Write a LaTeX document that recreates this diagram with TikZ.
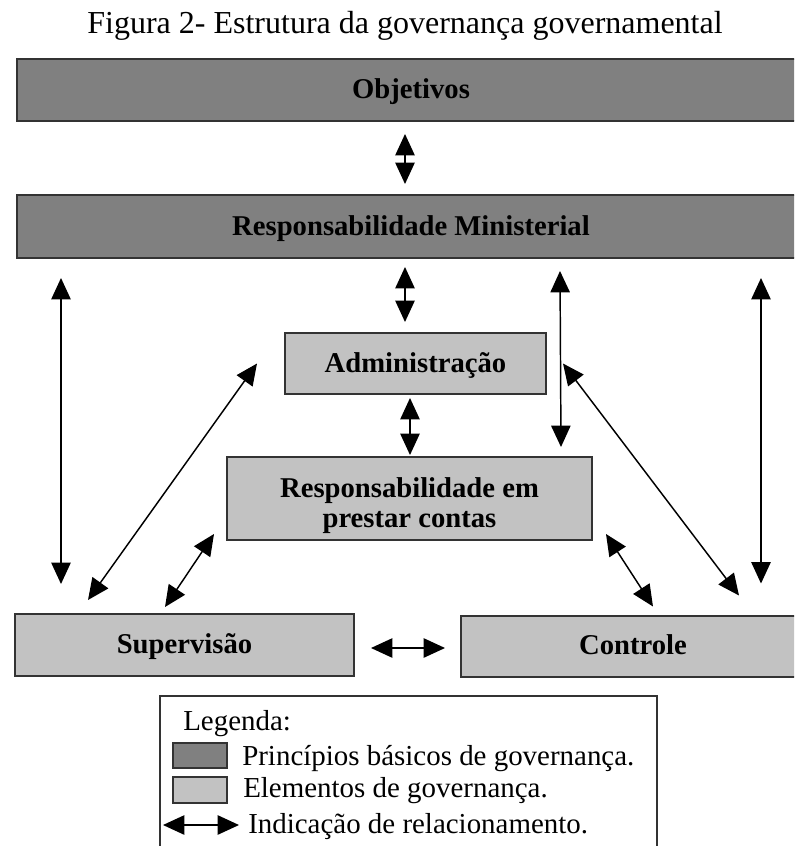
\documentclass[tikz,border=0pt]{standalone}
\usepackage{fontspec}
\setmainfont{Liberation Serif}
\usetikzlibrary{calc, arrows.meta}

\definecolor{basicgray}{gray}{0.5}
\definecolor{elemgray}{gray}{0.76}

\begin{document}
\begin{tikzpicture}[x=0.75pt, y=-0.75pt,
    basic/.style={draw=black!80, line width=1.5pt, fill=basicgray, inner sep=0pt},
    elem/.style={draw=black!80, line width=1.5pt, fill=elemgray, inner sep=0pt},
    boxfont/.style={font=\bfseries\fontsize{21.5}{22.5}\selectfont, inner sep=0pt},
    boxtext/.style={boxfont, text height=14pt, text depth=1.25pt},
    legtext/.style={font=\fontsize{21.7}{24}\selectfont, inner sep=0pt, anchor=base west},
    rel/.style={{Triangle[length=16pt, width=14.5pt]}-{Triangle[length=16pt, width=14.5pt]}, line width=1.1pt}]
% px unit for sizes
\def\u{0.75pt}

\useasboundingbox (0,0) rectangle (794,846);
\clip (0,0) rectangle (794,846);

% Title
\node[font=\fontsize{24}{28}\selectfont, inner sep=0pt, anchor=base] (title) at (405,33)
    {Figura 2- Estrutura da governança governamental};

% Principles
\node[basic, minimum width=788*\u, minimum height=62*\u, boxtext] (obj) at (411,90) {Objetivos};
\node[basic, minimum width=788*\u, minimum height=63*\u, boxtext] (min) at (411,226.5) {Responsabilidade Ministerial};

% Elements
\node[elem, minimum width=261*\u, minimum height=61*\u, boxtext] (adm) at (415.5,363.5) {Administração};
\node[elem, minimum width=365*\u, minimum height=83*\u] (acc) at (409.5,498.5) {};
\node[boxfont, align=center] (acctext) at ($(acc)+(0,7)$) {Responsabilidade em\\prestar contas};
\node[elem, minimum width=339*\u, minimum height=62*\u, boxtext] (sup) at (184.5,645) {Supervisão};
\node[elem, minimum width=344*\u, minimum height=61*\u, boxtext] (ctl) at (633,646) {Controle};

% Relations
\draw[rel] ($(obj.south)+(-6,12)$) -- ($(min.north)+(-6,-10)$);
\draw[rel] ($(min.south)+(-6,8)$) -- ($(adm.north)+(-10.5,-10)$);
\draw[rel] ($(adm.south)+(-5.5,3)$) -- ($(acc.north)+(0.5,-1)$);
\draw[rel] ($(min.south west)+(45,19)$) -- ($(sup.north west)+(47,-29)$);
\draw[rel] ($(min.south)+(149,12)$) -- ($(acc.north east)+(-32,-9)$);
\draw[rel] ($(min.south east)+(-45,19)$) -- ($(ctl.north east)+(-45,-31)$);
\draw[rel] ($(adm.west)+(-27,0)$) -- ($(sup.north west)+(74,-13)$);
\draw[rel] ($(adm.east)+(16,0)$) -- ($(ctl.north)+(106,-19)$);
\draw[rel] ($(sup.north)+(-19.5,-6)$) -- ($(acc.south west)+(-12,-7)$);
\draw[rel] ($(acc.south east)+(13,-7)$) -- ($(ctl.north)+(20,-8)$);
\draw[rel] ($(sup.east)+(16,3)$) -- ($(ctl.west)+(-15,2)$);

% Legend
\draw[line width=1.5pt, draw=black!80] (160,850) -- (160,696) -- (657,696) -- (657,850);
\node[legtext] (leg) at (183,730) {Legenda:};
\node[basic, line width=1.3pt, minimum width=54*\u, minimum height=25*\u] (legbasic) at (200,755.5) {};
\node[legtext] (legbasictext) at (242,765) {Princípios básicos de governança.};
\node[elem, line width=1.3pt, minimum width=54*\u, minimum height=26*\u] (legelem) at (200,790) {};
\node[legtext] (legelemtext) at (243,797) {Elementos de governança.};
\coordinate (legrel1) at (163,825);
\coordinate (legrel2) at (239,825);
\draw[rel] (legrel1) -- (legrel2);
\node[legtext] (legreltext) at (248,833) {Indicação de relacionamento.};
\end{tikzpicture}
\end{document}
